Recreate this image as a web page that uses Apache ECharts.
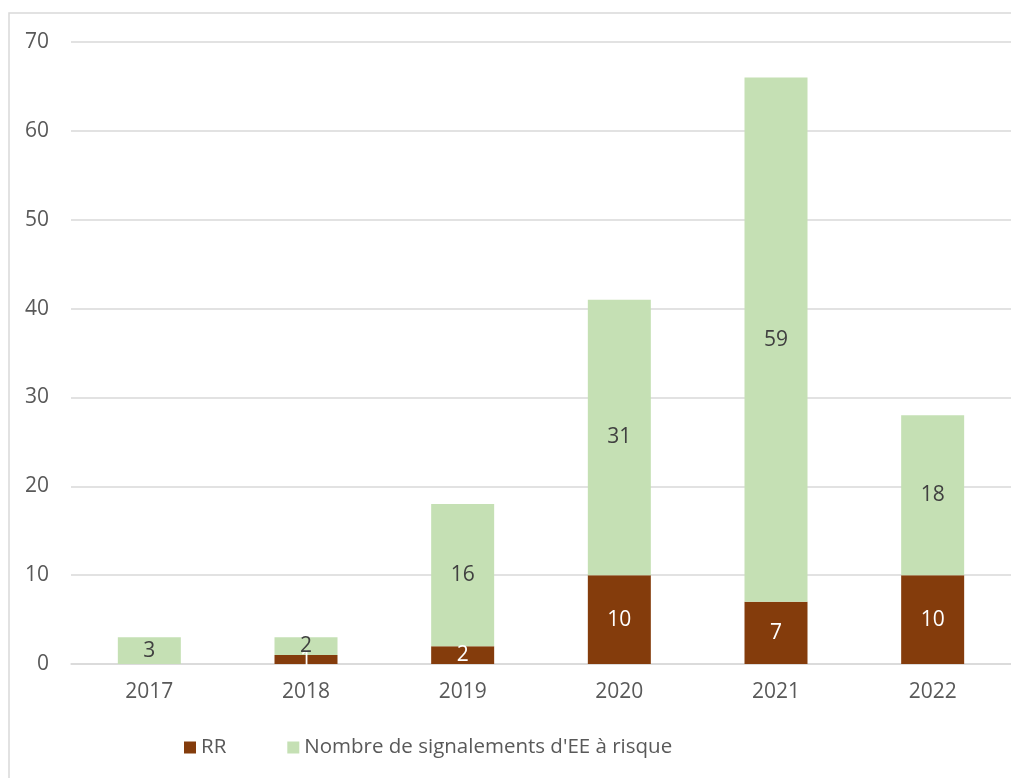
<!DOCTYPE html>
<html lang="fr">
<head>
    <meta charset="utf-8">
    <title>Signalements</title>
    <script src="https://cdn.jsdelivr.net/npm/echarts@6/dist/echarts.min.js"></script>
    <style type="text/css">
        html, body {
            width: 100%;
            height: 100%;
            margin: 0px;
            padding: 0px;
            background: #fff;
        }

        #main {
            width: 1011px;
            height: 778px;
        }
    </style>
</head>
<body>
<div id="main"></div>
<script>
    var years = ['2017', '2018', '2019', '2020', '2021', '2022'];
    var rr = [0, 1, 2, 10, 7, 10];
    var signalements = [3, 2, 16, 31, 59, 18];
    var seriesNames = ['RR', "Nombre de signalements d'EE à risque"];

    var myChart = echarts.init(document.getElementById('main'));

    var fontFamily = '"Open Sans", Lato, sans-serif';

    var option = {
        animation: false,
        // cadre autour du graphique
        graphic: [{
            type: 'rect',
            shape: { x: 9, y: 13, width: 1020, height: 800 },
            style: { fill: 'none', stroke: '#d9d9d9', lineWidth: 1.5 },
            silent: true
        }],
        grid: {
            left: 71,
            right: 0,
            top: 42,
            bottom: 114
        },
        legend: {
            left: 179,
            top: 732,
            itemWidth: 12,
            itemHeight: 12,
            itemGap: 61,
            icon: 'rect',
            textStyle: { fontSize: 20.5, color: '#595959', fontFamily: fontFamily },
            data: seriesNames
        },
        xAxis: {
            type: 'category',
            data: years,
            axisLine: { lineStyle: { color: '#d9d9d9', width: 1.5 } },
            axisTick: { show: false },
            axisLabel: { fontSize: 21, color: '#595959', margin: 18, fontFamily: fontFamily }
        },
        yAxis: {
            type: 'value',
            min: 0,
            max: 70,
            interval: 10,
            axisLine: { show: false },
            axisTick: { show: false },
            splitLine: { lineStyle: { color: '#d9d9d9', width: 1.5 } },
            axisLabel: { fontSize: 21, color: '#595959', margin: 22, fontFamily: fontFamily }
        },
        series: [{
            name: seriesNames[0],
            type: 'bar',
            stack: 'total',
            barWidth: 63,
            itemStyle: { color: '#843c0c' },
            label: {
                show: true,
                color: '#ffffff',
                fontSize: 21,
                fontFamily: fontFamily,
                formatter: function (p) { return p.value === 0 ? '' : p.value; }
            },
            data: rr
        }, {
            name: seriesNames[1],
            type: 'bar',
            stack: 'total',
            barWidth: 63,
            itemStyle: { color: '#c5e0b4' },
            label: {
                show: true,
                color: '#404040',
                fontSize: 21,
                fontFamily: fontFamily
            },
            data: signalements
        }]
    };

    myChart.setOption(option);
</script>
</body>
</html>
